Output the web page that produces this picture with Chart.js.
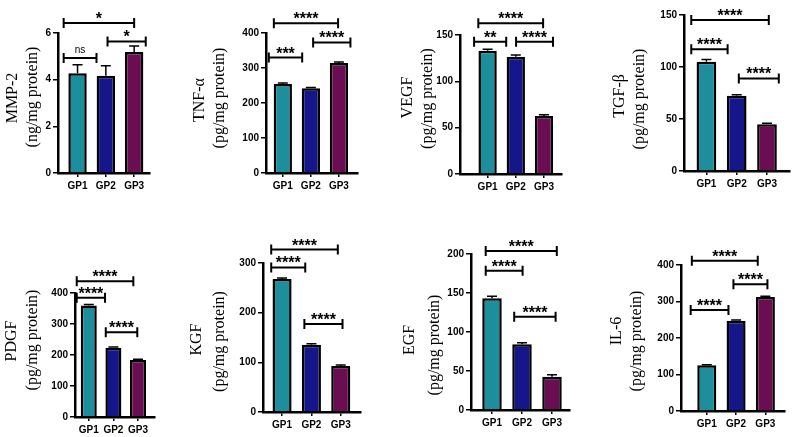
<!DOCTYPE html>
<html lang="en">
<head>
<meta charset="UTF-8">
<title>Growth factors and cytokines by group</title>
<script src="https://cdn.jsdelivr.net/npm/chart.js"></script>
<style>
  body { margin: 0; width: 797px; height: 437px; background: #fff; position: relative; overflow: hidden; }
  canvas { position: absolute; }
</style>
</head>
<body>
<script>
// groups and bar colours
var groups = ['GP1', 'GP2', 'GP3'];
var barColors = ['#1d8e9c', '#14168a', '#6a0d52'];

// means, SEM and significance brackets [from, to, height, label] per marker
var mmp2 = [4.27, 4.17, 5.19];
var mmp2Err = [0.37, 0.43, 0.25];
var mmp2Sig = [[-0.49, 0.67, 4.93, 'ns'], [-0.49, 2.0, 6.43, '*'], [1.06, 2.41, 5.64, '*']];

var tnf = [254, 242, 314];
var tnfErr = [3, 2.5, 3.5];
var tnfSig = [[-0.5, 0.69, 330, '***'], [-0.32, 1.97, 428, '****'], [1.08, 2.41, 373, '****']];

var vegf = [133, 126.6, 62.6];
var vegfErr = [1.5, 1.8, 1.4];
var vegfSig = [[-0.48, 0.66, 142.8, '**'], [-0.33, 1.97, 162.6, '****'], [1.01, 2.32, 142.8, '****']];

var tgf = [105, 72.3, 45];
var tgfErr = [2.3, 1, 0.9];
var tgfSig = [[-0.5, 2.06, 145.2, '****'], [-0.5, 0.7, 117, '****'], [1.07, 2.39, 89, '****']];

var pdgf = [360, 223, 184];
var pdgfErr = [3, 2.5, 2];
var pdgfSig = [[-0.49, 1.81, 438, '****'], [-0.49, 0.66, 385, '****'], [0.69, 1.97, 273.6, '****']];

var kgf = [268, 135.5, 92.4];
var kgfErr = [2, 2, 2];
var kgfSig = [[-0.37, 1.9, 327, '****'], [-0.37, 0.79, 291, '****'], [0.76, 2.06, 177.3, '****']];

var egf = [143.2, 84.2, 42.7];
var egfErr = [2.5, 2, 2.5];
var egfSig = [[-0.21, 2.16, 203.8, '****'], [-0.21, 1.02, 178.6, '****'], [0.74, 2.12, 119.7, '****']];

var il6 = [125.5, 247, 312];
var il6Err = [1.5, 2.5, 2.5];
var il6Sig = [[-0.51, 1.74, 411.8, '****'], [0.91, 2.07, 347, '****'], [-0.55, 0.74, 276.5, '****']];

// panel layout (page pixels of each plot area, title offsets)
var panels = [
  { title: ['MMP-2', '(ng/mg protein)'], values: mmp2, err: mmp2Err, sig: mmp2Sig, yMax: 6, yStep: 2,
    xMin: -0.69, xMax: 2.56, area: [58, 33, 150, 173], tDx: [45, 25], tDy: [-5, -6] },
  { title: ['TNF-\u03b1', '(pg/mg protein)'], values: tnf, err: tnfErr, sig: tnfSig, yMax: 400, yStep: 100,
    xMin: -0.6, xMax: 2.68, area: [266, 33, 358, 173], tDx: [66, 46], tDy: [-3, -5] },
  { title: ['VEGF', '(pg/mg protein)'], values: vegf, err: vegfErr, sig: vegfSig, yMax: 150, yStep: 50,
    xMin: -0.98, xMax: 2.64, area: [460, 35, 562, 174], tDx: [52, 32], tDy: [-7, -6] },
  { title: ['TGF-\u03b2', '(pg/mg protein)'], values: tgf, err: tgfErr, sig: tgfSig, yMax: 150, yStep: 50,
    xMin: -0.74, xMax: 2.76, area: [684, 15, 790, 171], tDx: [64, 44], tDy: [3, 6] },
  { title: ['PDGF', '(pg/mg protein)'], values: pdgf, err: pdgfErr, sig: pdgfSig, yMax: 400, yStep: 100,
    xMin: -0.56, xMax: 2.69, area: [75, 293, 155, 417], tDx: [63, 42], tDy: [-14, -15] },
  { title: ['KGF', '(pg/mg protein)'], values: kgf, err: kgfErr, sig: kgfSig, yMax: 300, yStep: 100,
    xMin: -0.65, xMax: 2.69, area: [263, 263, 361, 412], tDx: [66, 43], tDy: [2, 4] },
  { title: ['EGF', '(pg/mg protein)'], values: egf, err: egfErr, sig: egfSig, yMax: 200, yStep: 50,
    xMin: -0.7, xMax: 2.6, area: [471, 254, 570, 410], tDx: [61, 36], tDy: [8, 13] },
  { title: ['IL-6', '(pg/mg protein)'], values: il6, err: il6Err, sig: il6Sig, yMax: 400, yStep: 100,
    xMin: -0.88, xMax: 2.67, area: [681, 265, 785, 411], tDx: [64, 44], tDy: [-7, 3] }
];

var PAD_TOP = 45, Y_BOX = 80, X_BOX = 30, PAD_RIGHT = 6;

// error bars, significance brackets and the two-line axis titles
var extrasPlugin = {
  id: 'extras',
  afterDatasetsDraw: function (chart) {
    var p = chart.options.plugins.extras.panel;
    var ctx = chart.ctx, xs = chart.scales.x, ys = chart.scales.y;
    var meta = chart.getDatasetMeta(0);
    ctx.save();
    ctx.strokeStyle = '#000';
    ctx.fillStyle = '#000';

    ctx.lineWidth = 1.5;
    meta.data.forEach(function (bar, i) {
      var yt = ys.getPixelForValue(p.values[i] + p.err[i]);
      ctx.beginPath();
      ctx.moveTo(bar.x, bar.y);
      ctx.lineTo(bar.x, yt);
      ctx.moveTo(bar.x - 5, yt);
      ctx.lineTo(bar.x + 5, yt);
      ctx.stroke();
    });

    ctx.lineWidth = 2;
    ctx.textAlign = 'center';
    ctx.textBaseline = 'alphabetic';
    p.sig.forEach(function (s) {
      var x0 = xs.getPixelForValue(s[0]);
      var x1 = xs.getPixelForValue(s[1]);
      var yy = ys.getPixelForValue(s[2]);
      ctx.beginPath();
      ctx.moveTo(x0, yy); ctx.lineTo(x1, yy);
      ctx.moveTo(x0, yy - 5); ctx.lineTo(x0, yy + 5);
      ctx.moveTo(x1, yy - 5); ctx.lineTo(x1, yy + 5);
      ctx.stroke();
      if (s[3] === 'ns') {
        ctx.font = '10px "Liberation Sans"';
        ctx.fillText(s[3], (x0 + x1) / 2, yy - 5);
      } else {
        ctx.font = 'bold 16px "Liberation Sans"';
        ctx.fillText(s[3], (x0 + x1) / 2, yy + 1);
      }
    });

    var area = chart.chartArea;
    var cy = (area.top + area.bottom) / 2;
    ctx.font = '16px "Liberation Serif"';
    ctx.textBaseline = 'middle';
    p.title.forEach(function (t, i) {
      ctx.save();
      ctx.translate(area.left - p.tDx[i], cy + p.tDy[i]);
      ctx.rotate(-Math.PI / 2);
      ctx.fillText(t, 0, 0);
      ctx.restore();
    });
    ctx.restore();
  }
};

panels.forEach(function (p) {
  var l = p.area[0], t = p.area[1], r = p.area[2], b = p.area[3];
  var canvas = document.createElement('canvas');
  canvas.width = (r - l) + Y_BOX + PAD_RIGHT;
  canvas.height = (b - t) + PAD_TOP + X_BOX;
  canvas.style.left = (l - Y_BOX) + 'px';
  canvas.style.top = (t - PAD_TOP) + 'px';
  document.body.appendChild(canvas);

  new Chart(canvas.getContext('2d'), {
    type: 'bar',
    data: {
      datasets: [{
        data: p.values.map(function (v, i) { return { x: i, y: v }; }),
        backgroundColor: barColors,
        borderColor: '#000',
        borderWidth: 2.5,
        categoryPercentage: 0.65,
        barPercentage: 1
      }]
    },
    options: {
      responsive: false,
      animation: false,
      layout: { padding: { top: PAD_TOP, right: PAD_RIGHT, left: 0, bottom: 0 } },
      plugins: {
        legend: { display: false },
        tooltip: { enabled: false },
        extras: { panel: p }
      },
      scales: {
        x: {
          type: 'linear',
          offset: false,
          min: p.xMin,
          max: p.xMax,
          afterBuildTicks: function (scale) {
            scale.ticks = groups.map(function (g, i) { return { value: i }; });
          },
          afterFit: function (scale) { scale.height = X_BOX; },
          ticks: {
            autoSkip: false,
            padding: 3,
            color: '#000',
            font: { family: 'Liberation Sans', size: 10, weight: 'bold' },
            callback: function (v) { return groups[v]; }
          },
          grid: { offset: false, drawOnChartArea: false, tickLength: 4, color: '#000', lineWidth: 1.5 },
          border: { color: '#000', width: 2.5 }
        },
        y: {
          min: 0,
          max: p.yMax,
          afterFit: function (scale) { scale.width = Y_BOX; },
          ticks: {
            stepSize: p.yStep,
            padding: 2,
            color: '#000',
            font: { family: 'Liberation Sans', size: 10, weight: 'bold' }
          },
          grid: { drawOnChartArea: false, tickLength: 5, color: '#000', lineWidth: 1.5 },
          border: { color: '#000', width: 2.5 }
        }
      }
    },
    plugins: [extrasPlugin]
  });
});
</script>
</body>
</html>
